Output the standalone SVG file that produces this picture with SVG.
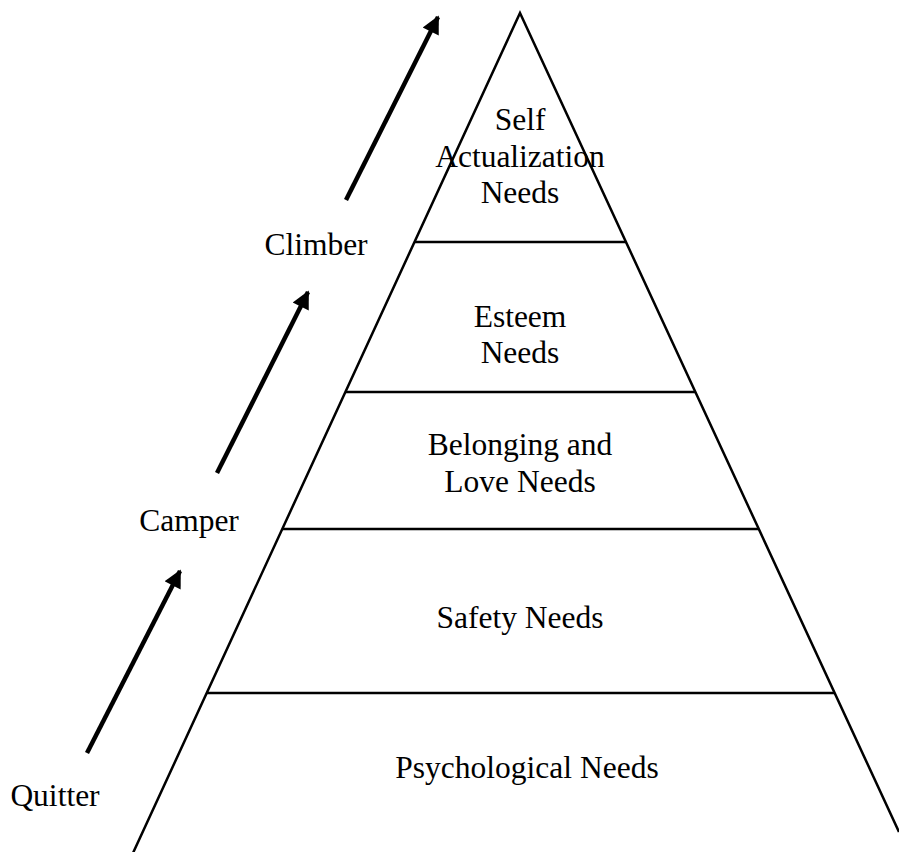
<svg xmlns="http://www.w3.org/2000/svg" width="899" height="852" viewBox="0 0 899 852">
<style>
text{font-family:"Liberation Serif","Times New Roman",serif;font-size:31.5px;fill:#000;text-anchor:middle}
.edge{stroke:#000;stroke-width:2.5;fill:none}
.arr{stroke:#000;stroke-width:4.5;fill:none;marker-end:url(#ah)}
</style>
<defs>
<marker id="ah" viewBox="0 0 10 10" refX="9" refY="5" markerUnits="userSpaceOnUse" markerWidth="24" markerHeight="18" orient="auto">
<path d="M0,0 L10,5 L0,10 z" fill="#000"/>
</marker>
</defs>
<rect width="899" height="852" fill="#fff"/>
<g id="pyramid">
<path class="edge" d="M133,853 L520,13 L899,832"/>
</g>
<g id="connectors">
<line class="arr" x1="87" y1="753" x2="180" y2="571"/>
<line class="arr" x1="217" y1="473" x2="308" y2="292"/>
<line class="arr" x1="346" y1="200" x2="438" y2="17"/>
</g>
<g id="self-actualization">
<line class="edge" x1="414" y1="242" x2="626" y2="242"/>
<text x="520" y="130">Self</text>
<text x="520" y="167">Actualization</text>
<text x="520" y="203">Needs</text>
</g>
<g id="esteem">
<line class="edge" x1="345" y1="392" x2="695" y2="392"/>
<text x="520" y="327">Esteem</text>
<text x="520" y="363">Needs</text>
</g>
<g id="belonging">
<line class="edge" x1="282" y1="529" x2="758" y2="529"/>
<text x="520" y="455">Belonging and</text>
<text x="520" y="492">Love Needs</text>
</g>
<g id="safety">
<line class="edge" x1="207" y1="693" x2="835" y2="693"/>
<text x="520" y="628">Safety Needs</text>
</g>
<g id="psychological">
<text x="527" y="778">Psychological Needs</text>
</g>
<g id="labels">
<text x="55" y="806">Quitter</text>
<text x="189" y="531">Camper</text>
<text x="316" y="255">Climber</text>
</g>
</svg>
